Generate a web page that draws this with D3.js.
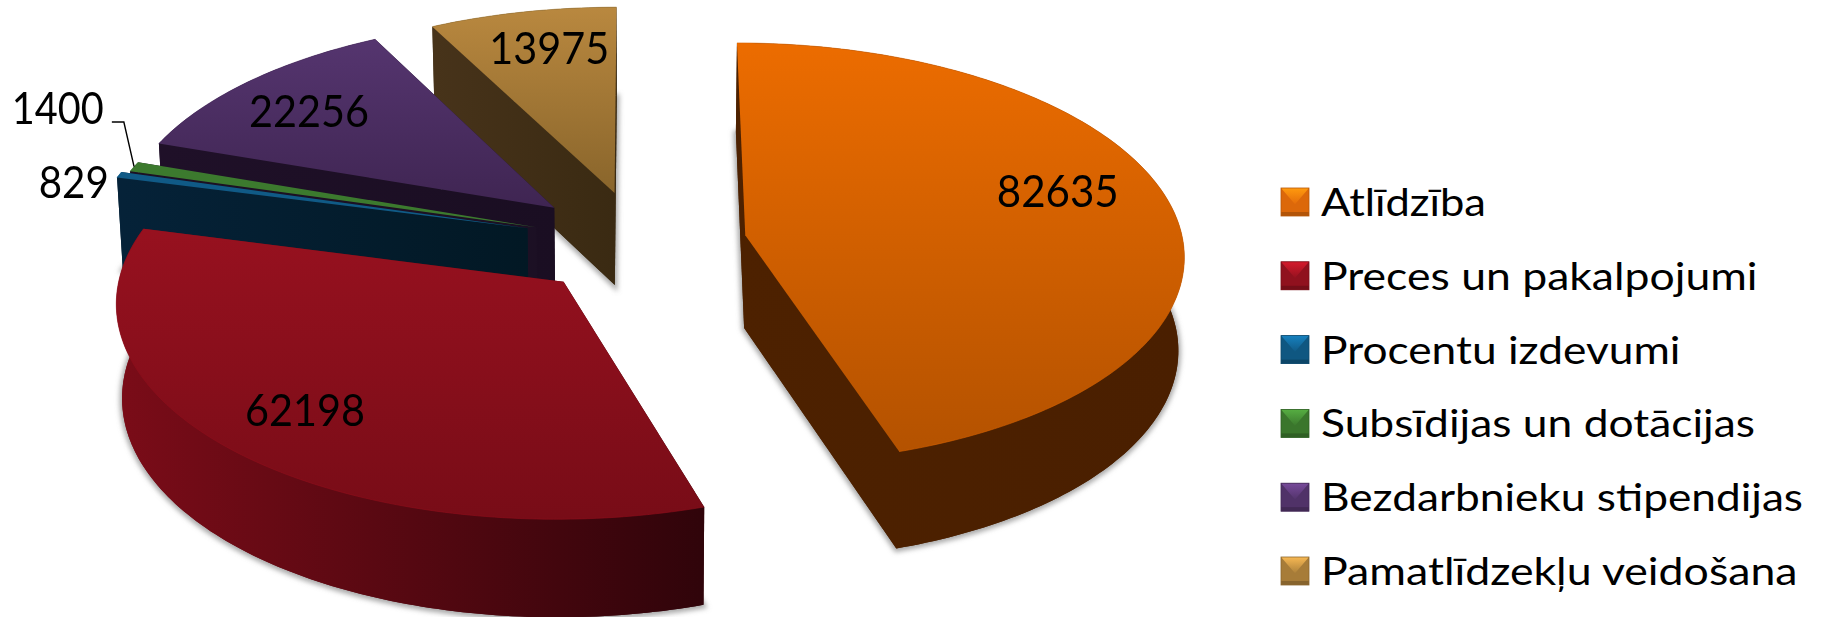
<!DOCTYPE html>
<html><head><meta charset="utf-8">
<script src="https://cdnjs.cloudflare.com/ajax/libs/d3/7.8.5/d3.min.js"></script>
<style>html,body{margin:0;padding:0;background:#fff}svg{display:block}text{font-family:Lato,"Noto Sans",sans-serif;fill:#000}</style>
</head><body><svg id="c" width="1824" height="617"></svg>
<script>
const categories=["Atlīdzība","Preces un pakalpojumi","Procentu izdevumi","Subsīdijas un dotācijas","Bezdarbnieku stipendijas","Pamatlīdzekļu veidošana"];
const values=[82635,62198,829,1400,22256,13975];
const topColors=[["#ec6c00","#b45200"],["#97111f","#780c17"],["#105a86","#105a86"],["#3c7a2e","#3c7a2e"],["#55356f","#3f2552"],["#b9883f","#89652b"]];
const wallColors=[["#4d2100","#4a1f00"],["#7a0c18","#30040a"],["#052238","#021824"],["#1c1024","#1c1024"],["#1f1028","#1a0e22"],["#47331a","#3a2a12"]];
const swatchColors=["#e46c0a","#95121f","#105a86","#3c7a2e","#53346c","#ad813a"];
const explodeBy=[.244,.25,.268,.25,.262,.25];
const labelRadius=[.763,.786,1.09,1.313,.772,.778];
const labelAngle=[73.9,223.8,281.8,297.2,309,347.7];
const labelWidth=[122,120,70,92,120,120];
const legendWidth=[165,436.5,359.5,434,482,476.5];
const drawOrder=[5,4,3,2,0,1];

const svg=d3.select("#c"),defs=svg.append("defs");
const cam={px:640,py:243,R:438,a:210,k:.086,depth:93,conv:.011};
const rad=Math.PI/180;
function project(x,y,z=0){
  const w=1-cam.k*y;
  const X=cam.px+cam.R*x/w,Y=cam.py+cam.a*y/w;
  return [cam.px+(X-cam.px)*(1-cam.conv*z),Y+z*cam.depth/Math.sqrt(w)];
}
const arcs=d3.pie().sort(null).startAngle(0).endAngle(2*Math.PI).value(d=>d)(values);
const slices=arcs.map((d,i)=>{
  const mid=(d.startAngle+d.endAngle)/2,e=explodeBy[i];
  const cx=e*Math.sin(mid),cy=-e*Math.cos(mid);
  const pt=(a,r=1)=>[cx+r*Math.sin(a),cy-r*Math.cos(a)];
  const n=Math.max(6,Math.round((d.endAngle-d.startAngle)/rad));
  const angles=d3.range(n+1).map(j=>d.startAngle+(d.endAngle-d.startAngle)*j/n);
  return {i,mid,cx,cy,pt,angles,start:d.startAngle,end:d.endAngle};
});
const line=d3.line();
const faceAt=(s,z)=>[project(s.cx,s.cy,z),...s.angles.map(a=>project(...s.pt(a),z))];

defs.append("filter").attr("id","soft").attr("x","-10%").attr("y","-10%").attr("width","120%").attr("height","120%")
  .append("feGaussianBlur").attr("stdDeviation",2.6);

slices.forEach(s=>{
  const top=faceAt(s,0),wall=faceAt(s,1);
  const ys=d3.extent(top,p=>p[1]),xs=d3.extent(wall,p=>p[0]);
  const t=defs.append("linearGradient").attr("id","top"+s.i).attr("gradientUnits","userSpaceOnUse")
    .attr("x1",0).attr("x2",0).attr("y1",ys[0]).attr("y2",ys[1]);
  t.append("stop").attr("offset",0).attr("stop-color",topColors[s.i][0]);
  t.append("stop").attr("offset",1).attr("stop-color",topColors[s.i][1]);
  const g=defs.append("linearGradient").attr("id","wall"+s.i).attr("gradientUnits","userSpaceOnUse")
    .attr("y1",0).attr("y2",0).attr("x1",xs[0]).attr("x2",xs[1]);
  g.append("stop").attr("offset",0).attr("stop-color",wallColors[s.i][0]);
  g.append("stop").attr("offset",1).attr("stop-color",wallColors[s.i][1]);
});

svg.append("g").attr("filter","url(#soft)").selectAll("path").data(slices).join("path")
  .attr("d",s=>line(faceAt(s,1.01))+"Z").attr("fill","#8d8d8d").attr("stroke","#8d8d8d").attr("stroke-width",5).attr("opacity",.75);

const order=drawOrder.map(i=>slices[i]);
const g=svg.selectAll("g.slice").data(order).join("g").attr("class","slice");
g.each(function(s){
  const el=d3.select(this),c0=project(s.cx,s.cy,0),c1=project(s.cx,s.cy,1);
  const q=p=>[c0,project(...p,0),project(...p,1),c1];
  const band=[...s.angles.map(x=>project(...s.pt(x),0)),...s.angles.slice().reverse().map(x=>project(...s.pt(x),1))];
  [faceAt(s,1),q(s.pt(s.start)),q(s.pt(s.end)),band].forEach(poly=>
    el.append("path").attr("d",line(poly)+"Z").attr("fill",`url(#wall${s.i})`));
  el.append("path").attr("fill",`url(#top${s.i})`).attr("d",line(faceAt(s,0))+"Z");
  el.append("path").attr("fill","none").attr("stroke",d3.color(topColors[s.i][1]).brighter(.5)).attr("stroke-width",1).attr("opacity",.6)
    .attr("d",line(s.angles.map(a=>project(...s.pt(a),0))));
});

const labelPos=slices.map(s=>project(...s.pt(labelAngle[s.i]*rad,labelRadius[s.i]),0));
svg.append("g").selectAll("text").data(values).join("text")
  .attr("x",(d,i)=>labelPos[i][0]).attr("y",(d,i)=>labelPos[i][1]+15)
  .attr("text-anchor","middle").attr("font-size",44.5)
  .attr("textLength",(d,i)=>labelWidth[i]).attr("lengthAdjust","spacingAndGlyphs").text(d=>d);

{
  const s=slices[3],e=project(...s.pt(s.mid,1),0),l=labelPos[3];
  svg.append("path").attr("fill","none").attr("stroke","#000").attr("stroke-width",1.4)
    .attr("d",line([[l[0]+54,l[1]+13],[l[0]+66,l[1]+13],e]));
}

const legendY=d3.scalePoint().domain(categories).range([216,585]);
const sw=28,sh=28;
const leg=svg.append("g").selectAll("g").data(categories).join("g").attr("transform",d=>`translate(1281,${legendY(d)})`);
leg.each(function(d,i){
  const gg=d3.select(this),base=d3.color(swatchColors[i]);
  const grad=defs.append("linearGradient").attr("id","sw"+i).attr("x1",0).attr("x2",0).attr("y1",0).attr("y2",1);
  grad.append("stop").attr("offset",0).attr("stop-color",base.brighter(1));
  grad.append("stop").attr("offset",1).attr("stop-color",base);
  const tl=[0,-sh],tr=[sw,-sh],m=[sw/2,-sh*.42];
  gg.append("rect").attr("y",-sh).attr("width",sw).attr("height",sh).attr("fill",base.darker(.1));
  gg.append("path").attr("d",line([tl,tr,m])+"Z").attr("fill",`url(#sw${i})`);
  gg.append("rect").attr("y",-4).attr("width",sw).attr("height",4).attr("fill",base.darker(.7));
  gg.append("rect").attr("y",-sh).attr("width",sw).attr("height",sh).attr("fill","none").attr("stroke",base.darker(.6)).attr("stroke-width",.8);
});
leg.append("text").attr("x",40).attr("y",0).attr("font-size",39.5)
  .attr("textLength",(d,i)=>legendWidth[i]).attr("lengthAdjust","spacingAndGlyphs").text(d=>d);
</script></body></html>
